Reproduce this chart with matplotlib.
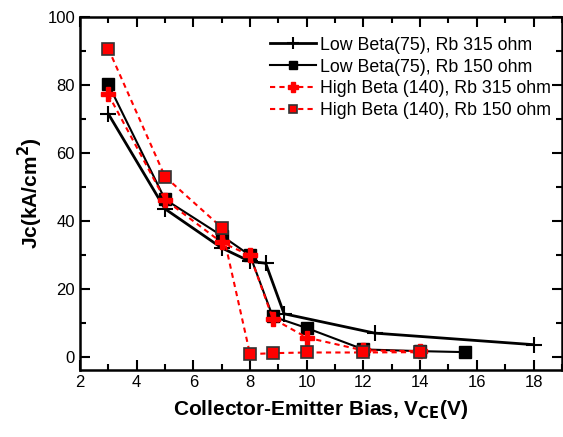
import matplotlib
matplotlib.use("Agg")
import matplotlib.pyplot as plt
from matplotlib.ticker import MultipleLocator

plt.rcParams['font.family'] = ['Liberation Sans', 'DejaVu Sans']

# Low Beta(75), Rb 315 ohm
lb315_x = [3, 5, 7, 8, 8.55, 9.2, 12.4, 18]
lb315_y = [71.5, 43.5, 32, 28, 27.5, 12.6, 6.9, 3.5]

# Low Beta(75), Rb 150 ohm
lb150_x = [3, 5, 7, 8, 8.8, 10, 12, 14, 15.6]
lb150_y = [80.2, 46.3, 35.6, 29.8, 11.8, 8.4, 2.1, 1.6, 1.3]

# High Beta (140), Rb 315 ohm
hb315_x = [3, 5, 7, 8, 8.8, 10, 12, 14]
hb315_y = [77.2, 46.2, 33.6, 29.8, 11.2, 5.6, 1.8, 1.6]

# High Beta (140), Rb 150 ohm
hb150_x = [3, 5, 7, 8, 8.8, 10, 12, 14]
hb150_y = [90.7, 53.0, 38.0, 0.7, 1.0, 1.2, 1.2, 1.3]

fig = plt.figure(figsize=(5.63, 4.37), dpi=100)
ax = fig.add_axes([0.142, 0.153, 0.856, 0.808])

ax.plot(lb315_x, lb315_y, color='black', lw=2, marker='+', ms=12, mew=1.5,
        label='Low Beta(75), Rb 315 ohm')
ax.plot(lb150_x, lb150_y, color='black', lw=1.5, marker='s', ms=8,
        label='Low Beta(75), Rb 150 ohm')
ax.plot(hb315_x, hb315_y, color='red', lw=1.5, ls=(0, (2.5, 2)), marker='P',
        ms=9.5, mec='red', mfc='red', label='High Beta (140), Rb 315 ohm')
ax.plot(hb150_x, hb150_y, color='red', lw=1.5, ls=(0, (2.5, 2)), marker='s',
        ms=8, mfc='red', mec='#333333', mew=1.2,
        label='High Beta (140), Rb 150 ohm')

ax.set_xlim(2, 19)
ax.set_ylim(-4, 100)
ax.xaxis.set_major_locator(MultipleLocator(2))
ax.xaxis.set_minor_locator(MultipleLocator(1))
ax.yaxis.set_major_locator(MultipleLocator(20))
ax.yaxis.set_minor_locator(MultipleLocator(10))
ax.tick_params(which='both', direction='in', top=True, right=True, width=1.5)
ax.tick_params(which='major', length=7, labelsize=12)
ax.tick_params(which='minor', length=4)
for s in ax.spines.values():
    s.set_linewidth(1.8)

ax.set_xlabel('Collector-Emitter Bias, V$_{\\mathbf{CE}}$(V)', fontsize=15,
              fontweight='bold', labelpad=6)
ax.set_ylabel('Jc(kA/cm$^{\\mathbf{2}}$)', fontsize=15, fontweight='bold',
              labelpad=2)

ax.legend(loc='upper right', frameon=False, fontsize=12.8, handlelength=2.6,
          handletextpad=0.25, labelspacing=0.28, borderaxespad=0.2,
          markerscale=0.75, bbox_to_anchor=(1.0, 0.975))

fig.savefig('out.png', dpi=100)
